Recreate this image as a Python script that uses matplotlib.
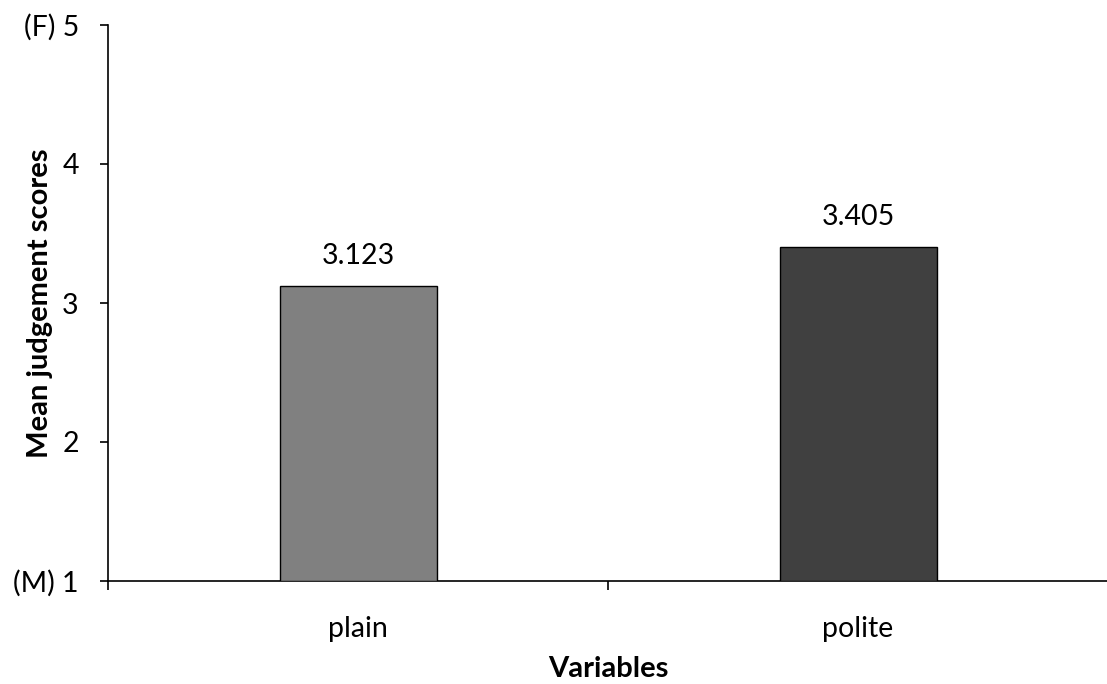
import matplotlib
matplotlib.use('Agg')
import matplotlib.pyplot as plt

# 데이터
categories = ['plain', 'polite']
means = [3.123, 3.405]
bar_colors = ['#808080', '#404040']
y_ticks = [1, 2, 3, 4, 5]
y_tick_labels = ['(M) 1', '2', '3', '4', '(F) 5']

plt.rcParams['font.family'] = ['Lato', 'DejaVu Sans']
fs = 20.5

fig = plt.figure(figsize=(11.07, 6.84), dpi=100)
ax = fig.add_axes([108 / 1107, 103 / 684, 1000 / 1107, 556 / 684])

x = range(len(categories))
ax.bar(x, [m - 1 for m in means], bottom=1, width=0.314,
       color=bar_colors, edgecolor='black', linewidth=1.0, zorder=3)

# 막대 위 값 표시
for xi, m in zip(x, means):
    ax.annotate(f'{m:.3f}', (xi, m), xytext=(0, 12), textcoords='offset points',
                ha='center', va='bottom', fontsize=fs)

ax.set_xlim(-0.5, 1.5)
ax.set_ylim(1, 5)
ax.set_yticks(y_ticks)
ax.set_yticklabels(y_tick_labels)
ax.set_xticks([-0.5, 0.5, 1.5])
ax.set_xticks(list(x), minor=True)
ax.set_xticklabels(['', '', ''])
ax.set_xticklabels(categories, minor=True)
ax.tick_params(axis='x', which='minor', length=0, pad=25, labelsize=fs)
ax.tick_params(axis='x', which='major', length=6.5, width=1.2, direction='out')
ax.tick_params(axis='y', length=6, width=1.2, direction='out', labelsize=fs, pad=15)

for side in ['top', 'right']:
    ax.spines[side].set_visible(False)
ax.spines['left'].set_linewidth(1.2)
ax.spines['bottom'].set_linewidth(1.2)

ax.set_ylabel('Mean judgement scores', fontsize=21, fontweight='bold', va='center', ha='center')
ax.yaxis.set_label_coords(-0.068, 0.5)
ax.set_xlabel('Variables', fontsize=21, fontweight='bold', va='center', ha='center')
ax.xaxis.set_label_coords(0.5, -0.158)

plt.savefig('out.png', dpi=100)
